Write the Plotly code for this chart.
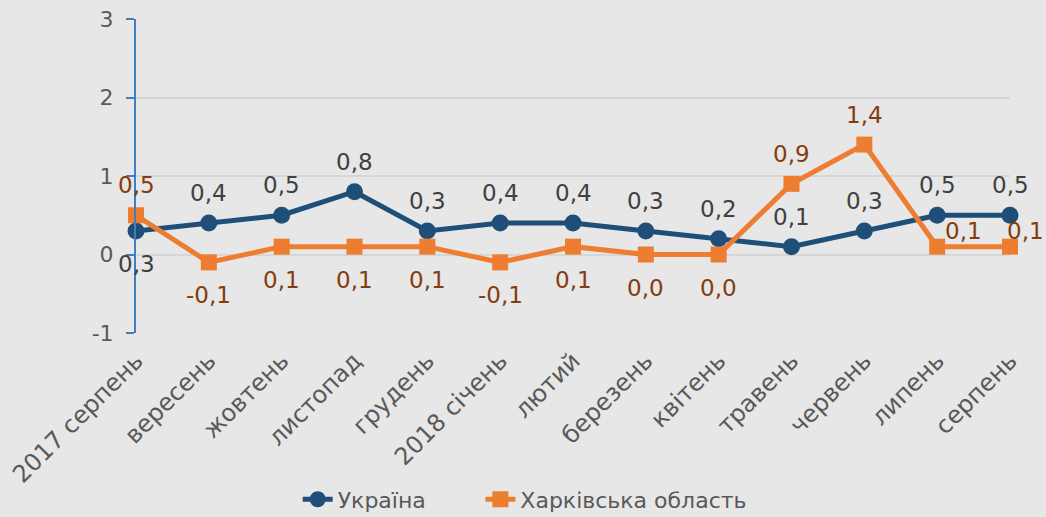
import plotly.graph_objects as go

categories = ["2017 серпень", "вересень", "жовтень", "листопад", "грудень", "2018 січень",
              "лютий", "березень", "квітень", "травень", "червень", "липень", "серпень"]
ukraine = [0.3, 0.4, 0.5, 0.8, 0.3, 0.4, 0.4, 0.3, 0.2, 0.1, 0.3, 0.5, 0.5]
kharkiv = [0.5, -0.1, 0.1, 0.1, 0.1, -0.1, 0.1, 0.0, 0.0, 0.9, 1.4, 0.1, 0.1]
ukraine_pos = ["below"] + ["above"] * 12
kharkiv_pos = ["above"] + ["below"] * 8 + ["above", "above", "right", "right_edge"]
y_ticks = [-1, 0, 1, 2, 3]

BLUE = "#1F4E79"
ORANGE = "#ED7D31"
BG = "#E7E7E7"
FONT = "DejaVu Sans"

xs = list(range(len(categories)))


def fmt(v):
    return f"{v:.1f}".replace(".", ",")


fig = go.Figure()
fig.add_trace(go.Scatter(x=xs, y=ukraine, name="Україна", mode="lines+markers",
                         line=dict(color=BLUE, width=5),
                         marker=dict(symbol="circle", size=17, color=BLUE),
                         cliponaxis=False, legend="legend"))
fig.add_trace(go.Scatter(x=xs, y=kharkiv, name="Харківська область", mode="lines+markers",
                         line=dict(color=ORANGE, width=5),
                         marker=dict(symbol="square", size=16, color=ORANGE),
                         cliponaxis=False, legend="legend2"))

annotations = []
shifts = {"above": (0, 30, "center"), "below": (0, -33, "center"),
          "right": (26, 16, "center"), "right_edge": (15, 16, "center")}
for vals, poss, col in [(ukraine, ukraine_pos, "#404040"), (kharkiv, kharkiv_pos, "#843C0C")]:
    for x, v, p in zip(xs, vals, poss):
        dx, dy, anc = shifts[p]
        annotations.append(dict(x=x, y=v, text=fmt(v), showarrow=False, xshift=dx, yshift=dy,
                                xanchor=anc, yanchor="middle",
                                font=dict(family=FONT, size=23, color=col)))

legend_style = dict(orientation="h", xanchor="left", y=-0.53, yanchor="middle",
                    font=dict(family=FONT, size=22, color="#595959"), bgcolor="rgba(0,0,0,0)")

fig.update_layout(
    width=1046, height=517,
    margin=dict(l=136, r=36, t=19, b=184, autoexpand=False),
    paper_bgcolor=BG, plot_bgcolor=BG,
    font=dict(family=FONT, color="#595959"),
    showlegend=True,
    legend=dict(x=0.185, **legend_style),
    legend2=dict(x=0.394, **legend_style),
    annotations=annotations,
    xaxis=dict(range=[0, 12], tickmode="array", tickvals=xs, ticktext=categories,
               tickangle=-45, showgrid=False, zeroline=False, showline=False, ticks="",
               automargin=False, ticklabelstandoff=8,
               tickfont=dict(family=FONT, size=24, color="#595959")),
    xaxis2=dict(range=[0, 12], overlaying="x", anchor="free", position=0.25,
                tickmode="array", tickvals=xs, showticklabels=False, showgrid=False,
                zeroline=False, showline=True, linecolor="#3F7FC0", linewidth=2,
                ticks="outside", ticklen=8, tickcolor="#3F7FC0", tickwidth=2),
    yaxis=dict(range=[-1, 3], tickmode="array", tickvals=y_ticks, ticktext=[str(t) for t in y_ticks],
               showgrid=True, gridcolor="#D6D6D6", gridwidth=2, zeroline=False,
               showline=True, linecolor="#3F7FC0", linewidth=2, automargin=False,
               ticks="outside", ticklen=8, tickcolor="#3F7FC0", tickwidth=2,
               ticklabelstandoff=8,
               tickfont=dict(family=FONT, size=22, color="#595959")),
)

fig.write_html("out.html", config={"displayModeBar": False},
               post_script="document.body.style.margin='0';")
